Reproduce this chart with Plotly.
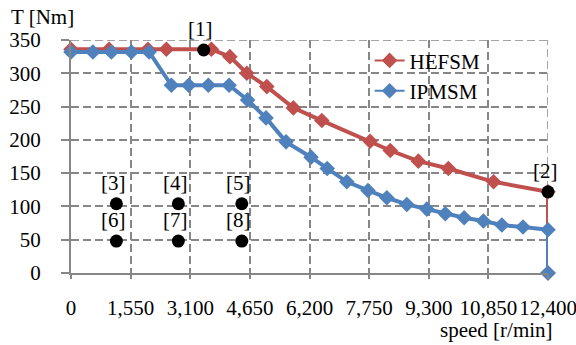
import plotly.graph_objects as go

# ---- data ----
speed_ticks = [0, 1550, 3100, 4650, 6200, 7750, 9300, 10850, 12400]
torque_ticks = [0, 50, 100, 150, 200, 250, 300, 350]

hefsm_speed = [0, 990, 2000, 2480, 3650, 4130, 4570, 5090, 5780, 6520, 7775,
               8300, 9030, 9810, 10985, 12400, 12400]
hefsm_torque = [336, 336, 336, 336, 336, 325, 300, 280, 248, 229, 198,
                184, 168, 157, 137, 122, 0]

ipmsm_speed = [0, 570, 1050, 1570, 2030, 2610, 3060, 3570, 4110, 4590, 5070,
               5590, 6240, 6660, 7170, 7720, 8210, 8730, 9250, 9730, 10220,
               10720, 11200, 11750, 12400, 12400]
ipmsm_torque = [332, 332, 332, 332, 332, 282, 282, 282, 282, 260, 233,
                197, 174, 157, 137, 124, 113, 103, 96, 89, 83,
                78, 72, 69, 65, 0]

point_labels = ["[1]", "[2]", "[3]", "[4]", "[5]", "[6]", "[7]", "[8]"]
point_speed = [3450, 12400, 1180, 2790, 4440, 1180, 2790, 4440]
point_torque = [335, 122, 104, 104, 104, 48, 48, 48]

RED = "#C0504D"
BLUE = "#4F81BD"
GRID = "#878787"
FONT = "Liberation Serif, Times New Roman, serif"
FS = 21

fig = go.Figure()

fig.add_trace(go.Scatter(
    x=hefsm_speed, y=hefsm_torque, mode="lines+markers", showlegend=False,
    line=dict(color=RED, width=4),
    marker=dict(symbol="diamond", size=12, color=RED),
    cliponaxis=False))
fig.add_trace(go.Scatter(
    x=ipmsm_speed, y=ipmsm_torque, mode="lines+markers", showlegend=False,
    line=dict(color=BLUE, width=4),
    marker=dict(symbol="diamond", size=12, color=BLUE),
    cliponaxis=False))

# legend-only entries (thinner lines as in the reference legend)
fig.add_trace(go.Scatter(
    x=[None], y=[None], mode="lines+markers", name="HEFSM",
    line=dict(color=RED, width=2),
    marker=dict(symbol="diamond", size=12, color=RED)))
fig.add_trace(go.Scatter(
    x=[None], y=[None], mode="lines+markers", name="IPMSM",
    line=dict(color=BLUE, width=2),
    marker=dict(symbol="diamond", size=12, color=BLUE)))

fig.add_trace(go.Scatter(
    x=point_speed, y=point_torque, mode="markers", showlegend=False,
    marker=dict(color="black", size=13), cliponaxis=False))

for s, t, lab in zip(point_speed, point_torque, point_labels):
    fig.add_annotation(x=s, y=t, xref="x", yref="y", text=lab, showarrow=False,
                       xshift=-3, yshift=21,
                       font=dict(family=FONT, size=FS, color="black"))

fig.add_annotation(x=-0.129, y=1.098, xref="paper", yref="paper",
                   text="T [Nm]", showarrow=False, xanchor="left", yanchor="middle",
                   font=dict(family=FONT, size=FS, color="black"))
fig.add_annotation(x=1.014, y=-0.306, xref="paper", yref="paper",
                   text="speed [r/min]", showarrow=False, xanchor="right", yanchor="bottom",
                   font=dict(family=FONT, size=FS, color="black"))

# dashed grid lines on the top and right edges of the plot area
fig.add_shape(type="line", xref="paper", yref="y", x0=0, x1=1, y0=350, y1=350,
              line=dict(color=GRID, width=1.5, dash="8px,4px"), layer="between")
fig.add_shape(type="line", xref="x", yref="paper", x0=12400, x1=12400, y0=0, y1=1,
              line=dict(color=GRID, width=1.5, dash="8px,4px"), layer="between")

# white patch behind legend text (above grid, below data)
fig.add_shape(type="rect", xref="paper", yref="paper",
              x0=0.711, x1=0.873, y0=0.71, y1=0.955,
              fillcolor="white", line=dict(width=0), layer="between")

fig.update_layout(
    width=576, height=345,
    margin=dict(l=71.3, r=28.3, t=39.5, b=72.3, autoexpand=False),
    paper_bgcolor="white", plot_bgcolor="white",
    font=dict(family=FONT, size=FS, color="black"),
    legend=dict(x=0.626, y=0.999, xanchor="left", yanchor="top",
                bgcolor="rgba(0,0,0,0)", font=dict(family=FONT, size=FS),
                tracegroupgap=0),
)

fig.update_xaxes(
    range=[0, 12400], tickvals=speed_ticks, tickformat=",d", tickangle=0,
    automargin=False,
    showline=True, linecolor=GRID, linewidth=2,
    showgrid=True, gridcolor=GRID, gridwidth=1.5, griddash="8px,4px",
    ticks="outside", ticklen=4, tickcolor=GRID, tickwidth=1.5,
    ticklabelstandoff=11, ticklabeloverflow="allow", zeroline=False,
    tickfont=dict(family=FONT, size=FS, color="black"))
fig.update_yaxes(
    range=[0, 350], tickvals=torque_ticks, automargin=False,
    showline=True, linecolor=GRID, linewidth=2,
    showgrid=True, gridcolor=GRID, gridwidth=1.5, griddash="8px,4px",
    ticks="outside", ticklen=8, tickcolor=GRID, tickwidth=1.5,
    ticklabelstandoff=16, zeroline=False,
    tickfont=dict(family=FONT, size=FS, color="black"))

fig.write_html("out.html")
